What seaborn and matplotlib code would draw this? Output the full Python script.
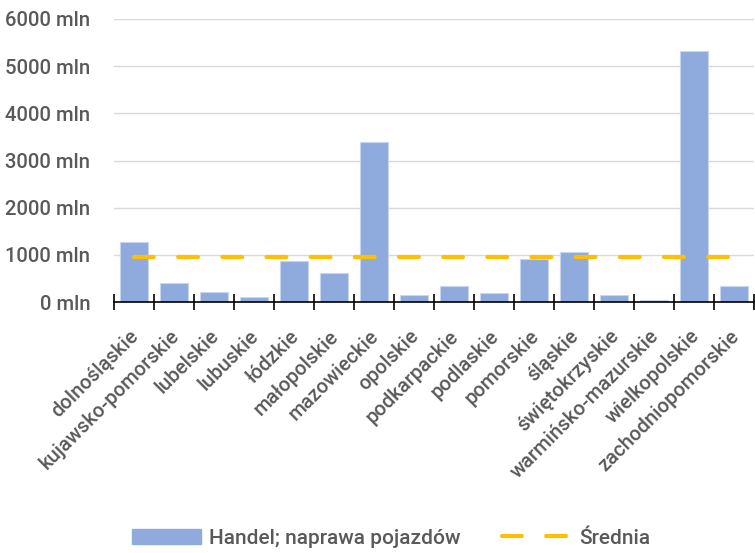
import numpy as np
import pandas as pd
import matplotlib
matplotlib.use("Agg")
import matplotlib.pyplot as plt
import matplotlib.transforms as mtransforms
from matplotlib.patches import Patch
from matplotlib.lines import Line2D
import seaborn as sns

categories = ["dolnośląskie", "kujawsko-pomorskie", "lubelskie", "lubuskie", "łódzkie",
              "małopolskie", "mazowieckie", "opolskie", "podkarpackie", "podlaskie",
              "pomorskie", "śląskie", "świętokrzyskie", "warmińsko-mazurskie",
              "wielkopolskie", "zachodniopomorskie"]
values = [1280, 410, 212, 112, 860, 620, 3390, 148, 339, 182, 903, 1059, 148, 50, 5318, 345]
series_name = "Handel; naprawa pojazdów"
mean_name = "Średnia"
yticks = [0, 1000, 2000, 3000, 4000, 5000, 6000]
ytick_labels = [f"{v} mln" for v in yticks]

mean_value = float(np.mean(values))

sns.set_theme(style="white")
plt.rcParams["font.family"] = ["Roboto", "DejaVu Sans"]

BAR = "#8FAADC"
GOLD = "#FFC000"
TXT = "#595959"
FS = 14.6

fig = plt.figure(figsize=(7.55, 5.53), dpi=100)
ax = fig.add_axes([114/755, (553-302)/553, 640/755, (302-19)/553])

df = pd.DataFrame({"cat": categories, "val": values})
sns.barplot(data=df, x="cat", y="val", color=BAR, saturation=1, width=0.72,
            edgecolor="#C9D6EE", linewidth=0.8, ax=ax, zorder=2)

ax.plot(categories, [mean_value] * len(categories), color=GOLD, linewidth=3,
        dashes=(4.75, 5.85), dash_capstyle="round", zorder=3)

ax.set_xlim(-0.5, len(categories) - 0.5)
ax.set_ylim(0, 6000)
ax.set_yticks(yticks)
ax.set_yticklabels(ytick_labels, color=TXT, fontsize=FS, fontweight="medium")
ax.yaxis.grid(True, color="#D9D9D9", linewidth=1.0, zorder=0)
ax.set_axisbelow(True)
ax.tick_params(axis="y", length=0, pad=17)

ax.set_xticks(range(len(categories)))
ax.set_xticklabels(categories, rotation=45, ha="right", va="center", rotation_mode="anchor",
                   color=TXT, fontsize=FS, fontweight="medium")
ax.tick_params(axis="x", which="major", length=0, pad=22.5)
shift = mtransforms.ScaledTranslation(2 / 100, 0, fig.dpi_scale_trans)
for lab in ax.get_xticklabels():
    lab.set_transform(lab.get_transform() + shift)
ax.set_xticks(np.arange(-0.5, len(categories), 1.0), minor=True)
ax.tick_params(axis="x", which="minor", direction="inout", length=11.5, width=1.2,
               color="black", bottom=True)

for s in ["top", "right", "left"]:
    ax.spines[s].set_visible(False)
ax.spines["bottom"].set_color("black")
ax.spines["bottom"].set_linewidth(1.2)
ax.set_xlabel("")
ax.set_ylabel("")

handles = [Patch(facecolor=BAR, edgecolor=BAR),
           Line2D([0], [0], color=GOLD, linewidth=3, dashes=(4.75, 5.85), dash_capstyle="round")]
leg = fig.legend(handles, [series_name, mean_name], loc="center", bbox_to_anchor=(0.5185, 15/553),
                 ncol=2, frameon=False, handlelength=3.3, handleheight=0.75,
                 columnspacing=2.0, handletextpad=0.4, labelcolor=TXT,
                 prop={"family": ["Roboto", "DejaVu Sans"], "size": 15, "weight": "medium"})

fig.savefig("out.png", dpi=100)
